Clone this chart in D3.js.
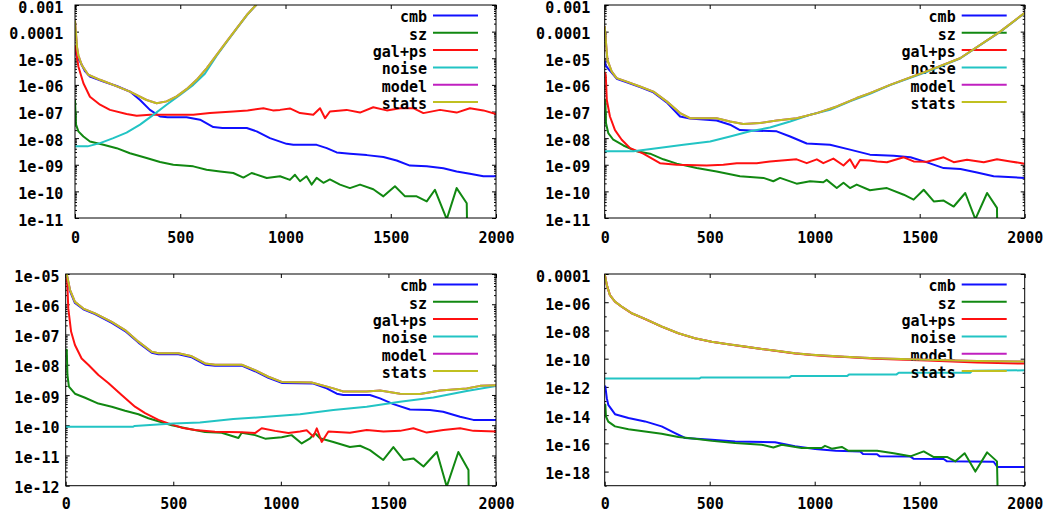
<!DOCTYPE html>
<html><head><meta charset="utf-8">
<script src="https://cdn.jsdelivr.net/npm/d3@7"></script>
<style>
body{margin:0;background:#fff;}
svg text{font-family:'DejaVu Sans Mono',monospace;font-weight:bold;font-size:15px;fill:#000;}
</style></head><body>
<svg id="c" width="1047" height="521"></svg>
<script>
// ---------- labels / ticks ----------
const seriesNames = ["cmb","sz","gal+ps","noise","model","stats"];
const seriesColors = ["#1010ff","#118811","#ff1010","#22c4c4","#c020c0","#c0c020"];
const xTickValues = [0,500,1000,1500,2000];
const xTickLabels = ["0","500","1000","1500","2000"];
const yTicksA = [1e-3,1e-4,1e-5,1e-6,1e-7,1e-8,1e-9,1e-10,1e-11];
const yLabelsA = ["0.001","0.0001","1e-05","1e-06","1e-07","1e-08","1e-09","1e-10","1e-11"];
const yTicksC = [1e-5,1e-6,1e-7,1e-8,1e-9,1e-10,1e-11,1e-12];
const yLabelsC = ["1e-05","1e-06","1e-07","1e-08","1e-09","1e-10","1e-11","1e-12"];
const yTicksD = [1e-4,1e-6,1e-8,1e-10,1e-12,1e-14,1e-16,1e-18];
const yLabelsD = ["0.0001","1e-06","1e-08","1e-10","1e-12","1e-14","1e-16","1e-18"];

// ---------- panel 1 (top left) ----------
const cmb1 = [[0,2e-5],[8,1.2e-5],[24,7.5e-6],[48,3.2e-6],[71,2.05e-6],[135,1.33e-6],[198,9.1e-7],[261,5.6e-7],[309,2.7e-7],[356,1.15e-7],[404,6.5e-8],[440,6.1e-8],[530,6.1e-8],[594,4.9e-8],[657,2.6e-8],[700,2.4e-8],[816,2.4e-8],[863,1.8e-8],[926,1e-8],[1005,6.1e-9],[1037,5.6e-9],[1148,5.6e-9],[1196,4.2e-9],[1243,2.9e-9],[1306,2.6e-9],[1386,2.3e-9],[1465,1.95e-9],[1528,1.45e-9],[1591,9.3e-10],[1671,8.7e-10],[1750,7.4e-10],[1813,5.6e-10],[1876,4.6e-10],[1940,3.7e-10],[2000,3.7e-10]];
const sz1 = [[0,2.7e-7],[5,3.2e-8],[16,1.8e-8],[40,1.15e-8],[71,7.5e-9],[135,5.6e-9],[198,4.2e-9],[261,2.7e-9],[340,1.8e-9],[404,1.26e-9],[467,1e-9],[562,8.7e-10],[625,6.5e-10],[689,5.6e-10],[752,4.9e-10],[800,3.3e-10],[839,4.9e-10],[911,3.2e-10],[974,3.7e-10],[1021,2.7e-10],[1045,4.2e-10],[1069,2.4e-10],[1100,3.7e-10],[1124,1.8e-10],[1148,3.2e-10],[1180,2.1e-10],[1211,2.8e-10],[1259,1.8e-10],[1306,1.33e-10],[1354,1.8e-10],[1417,1.2e-10],[1465,6.5e-11],[1520,1.55e-10],[1568,6.5e-11],[1623,6.5e-11],[1671,4.2e-11],[1710,1.15e-10],[1766,9e-12],[1813,1.33e-10],[1861,3.6e-11],[1866,1e-13]];
const galps1 = [[0,3e-5],[3,2.4e-5],[16,4.9e-6],[40,1.15e-6],[71,3.6e-7],[119,1.8e-7],[166,1.15e-7],[245,8.1e-8],[293,6.9e-8],[356,7.5e-8],[562,7.5e-8],[641,8.7e-8],[752,1e-7],[820,1.1e-7],[895,1.33e-7],[940,1.1e-7],[974,1.15e-7],[1021,1.3e-7],[1069,8.7e-8],[1132,7.5e-8],[1164,1.33e-7],[1188,5.6e-8],[1211,1e-7],[1290,1.15e-7],[1354,9.1e-8],[1417,1.45e-7],[1481,1.1e-7],[1544,1.33e-7],[1607,1.33e-7],[1655,8.7e-8],[1734,1.15e-7],[1813,9.1e-8],[1876,1.33e-7],[1940,1.1e-7],[2000,8.1e-8]];
const noise1 = [[0,4.9e-9],[60,4.9e-9],[119,6.5e-9],[182,1e-8],[245,1.6e-8],[309,3.2e-8],[372,7.5e-8],[435,1.8e-7],[499,4.2e-7],[562,1e-6],[617,2.6e-6],[673,1.25e-5],[720,4e-5],[768,1.3e-4],[816,4.1e-4],[860,1e-3],[900,2.6e-3]];
const stats1 = [[0,2.6e-4],[4,1e-4],[10,2.5e-5],[16,1.3e-5],[32,5.6e-6],[63,2.4e-6],[119,1.55e-6],[182,1e-6],[261,5.6e-7],[340,2.7e-7],[388,2.05e-7],[435,2.4e-7],[483,3.7e-7],[530,6.9e-7],[578,1.55e-6],[625,4.2e-6],[673,1.33e-5],[720,4.2e-5],[768,1.33e-4],[816,4.2e-4],[860,1e-3],[900,2.6e-3]];
const model1 = stats1;

// ---------- panel 2 (top right) ----------
const cmb2 = [[0,8e-6],[3,5.6e-6],[17,4e-6],[33,2.9e-6],[57,1.7e-6],[105,1.25e-6],[168,8.2e-7],[232,5.2e-7],[295,2.2e-7],[359,6.5e-8],[406,5.4e-8],[533,4.6e-8],[597,3.2e-8],[644,2e-8],[724,1.9e-8],[819,1.8e-8],[883,1.15e-8],[962,6.3e-9],[1073,5.6e-9],[1168,3.7e-9],[1263,2.4e-9],[1376,2.2e-9],[1456,1.9e-9],[1535,1.23e-9],[1614,7.5e-10],[1694,6.9e-10],[1773,5.1e-10],[1852,3.7e-10],[2000,3.2e-10]];
const sz2 = [[0,2.7e-7],[3,2.7e-7],[6,3.7e-8],[17,1.55e-8],[41,8.7e-9],[89,5.3e-9],[152,3.2e-9],[216,2.6e-9],[279,1.6e-9],[343,1.1e-9],[438,7.5e-10],[533,5.6e-10],[644,3.7e-10],[756,3.2e-10],[803,2.4e-10],[835,3.2e-10],[914,1.95e-10],[978,2.4e-10],[1041,2.2e-10],[1057,2.7e-10],[1105,1.33e-10],[1137,2.1e-10],[1168,1.33e-10],[1200,1.8e-10],[1263,1.1e-10],[1297,1.2e-10],[1344,1.33e-10],[1424,7.5e-11],[1471,4.9e-11],[1519,1.15e-10],[1567,4.2e-11],[1614,4.5e-11],[1662,2.7e-11],[1717,8.7e-11],[1765,9e-12],[1821,8.7e-11],[1868,2.4e-11],[1872,1e-13]];
const galps2 = [[0,3e-6],[5,2.4e-6],[10,2.7e-7],[25,6.5e-8],[49,2e-8],[81,8.7e-9],[121,4.2e-9],[184,2.6e-9],[263,1.15e-9],[343,1e-9],[486,9.4e-10],[565,1e-9],[629,1.15e-9],[724,1.15e-9],[787,1.33e-9],[914,1.6e-9],[962,1.15e-9],[1010,1.6e-9],[1041,1.15e-9],[1089,1.7e-9],[1137,9.4e-10],[1168,1.6e-9],[1192,7.5e-10],[1216,1.5e-9],[1263,1.45e-9],[1297,1.33e-9],[1344,1.25e-9],[1424,1.9e-9],[1471,1.33e-9],[1535,1.3e-9],[1614,1.9e-9],[1662,1.25e-9],[1725,1.55e-9],[1805,1.25e-9],[1868,1.6e-9],[1932,1.33e-9],[2000,1.1e-9]];
const noise2 = [[0,3.2e-9],[137,3.2e-9],[248,4.2e-9],[375,5.6e-9],[502,7.5e-9],[597,1.15e-8],[692,1.8e-8],[787,2.5e-8],[883,4.2e-8],[978,7.5e-8],[1073,1.15e-7],[1168,2.4e-7],[1263,4.6e-7],[1359,9.8e-7],[1535,3.1e-6],[1692,9.8e-6],[1883,9.8e-5],[2000,5e-4]];
const stats2 = [[0,1.6e-4],[5,5e-5],[13,8.7e-6],[33,3.2e-6],[57,1.8e-6],[105,1.33e-6],[168,8.7e-7],[232,5.6e-7],[295,2.4e-7],[359,8.7e-8],[406,5.6e-8],[533,5.6e-8],[597,4.2e-8],[660,3.4e-8],[740,3.7e-8],[819,4.6e-8],[914,5.6e-8],[1010,8.7e-8],[1105,1.55e-7],[1200,3.2e-7],[1263,4.9e-7],[1359,1e-6],[1535,3.3e-6],[1692,1e-5],[1883,1e-4],[2000,5.1e-4]];
const model2 = stats2;

// ---------- panel 3 (bottom left) ----------
const cmb3 = [[0,1e-5],[5,9e-6],[20,2.7e-6],[43,1.1e-6],[82,6.8e-7],[136,4.7e-7],[214,2.4e-7],[276,1.3e-7],[338,5.4e-8],[400,2.5e-8],[431,2.2e-8],[524,2.2e-8],[586,1.75e-8],[648,1e-8],[694,9.3e-9],[818,9.3e-9],[880,6.1e-9],[942,3.7e-9],[1004,2.5e-9],[1151,2.4e-9],[1213,1.65e-9],[1260,1.1e-9],[1290,1e-9],[1414,1e-9],[1461,7.7e-10],[1523,5e-10],[1600,3.3e-10],[1693,3.2e-10],[1754,2.8e-10],[1833,1.9e-10],[1895,1.5e-10],[2000,1.5e-10]];
const sz3 = [[0,3.1e-8],[5,3.1e-8],[8,4.6e-9],[15,1.9e-9],[43,1.1e-9],[90,8.1e-10],[152,5.2e-10],[214,4.1e-10],[276,3e-10],[338,2.3e-10],[384,1.7e-10],[446,1.25e-10],[493,1e-10],[570,7.7e-11],[648,6e-11],[725,5.6e-11],[803,3.8e-11],[818,5.6e-11],[880,4.7e-11],[927,3.6e-11],[1004,4e-11],[1050,4.7e-11],[1097,2.5e-11],[1136,3.7e-11],[1159,5.4e-11],[1182,3.7e-11],[1244,2.8e-11],[1321,1.9e-11],[1368,2.1e-11],[1414,1.5e-11],[1476,7.1e-12],[1523,1.9e-11],[1570,7.1e-12],[1616,8e-12],[1663,4.3e-12],[1725,1.3e-11],[1771,9.3e-13],[1825,1.3e-11],[1872,3.3e-12],[1876,1e-14]];
const galps3 = [[0,1e-5],[5,9.3e-6],[9,2.6e-6],[12,7.3e-7],[25,1.25e-7],[43,4.5e-8],[74,1.6e-8],[105,1e-8],[152,4.6e-9],[198,2.5e-9],[260,1e-9],[322,4.1e-10],[369,2.5e-10],[431,1.5e-10],[477,1.15e-10],[539,8.3e-11],[601,6.9e-11],[694,6.1e-11],[818,5.8e-11],[880,5.5e-11],[911,7.9e-11],[973,6.5e-11],[1035,5.5e-11],[1089,6.2e-11],[1120,6.8e-11],[1151,4.2e-11],[1167,7.9e-11],[1190,2.8e-11],[1221,6.2e-11],[1321,5.6e-11],[1399,6.9e-11],[1477,6.2e-11],[1554,6.5e-11],[1616,7.9e-11],[1678,5.7e-11],[1755,6.9e-11],[1833,7.9e-11],[1895,6.5e-11],[2000,6.2e-11]];
const noise3 = [[0,8.9e-11],[314,8.9e-11],[320,9.5e-11],[500,1.15e-10],[624,1.23e-10],[779,1.6e-10],[934,1.9e-10],[1089,2.3e-10],[1244,3.2e-10],[1399,4.1e-10],[1554,6e-10],[1709,8.3e-10],[1864,1.35e-9],[2000,2e-9]];
const stats3 = [[0,1.1e-5],[5,1e-5],[20,3e-6],[43,1.2e-6],[82,7.2e-7],[136,5e-7],[214,2.6e-7],[276,1.4e-7],[338,5.8e-8],[400,2.7e-8],[431,2.4e-8],[524,2.4e-8],[586,1.9e-8],[648,1.1e-8],[694,1e-8],[818,1e-8],[880,6.6e-9],[942,4e-9],[1004,2.7e-9],[1143,2.6e-9],[1244,1.65e-9],[1290,1.3e-9],[1399,1.3e-9],[1461,1.4e-9],[1554,1.1e-9],[1647,1.07e-9],[1740,1.4e-9],[1864,1.65e-9],[1926,2e-9],[2000,2.1e-9]];
const model3 = stats3;

// ---------- panel 4 (bottom right) ----------
const cmb4 = [[0,1.1e-12],[3,1.07e-12],[10,1.6e-13],[17,5.4e-14],[49,1.17e-14],[113,6.2e-15],[192,3.6e-15],[271,1.6e-15],[335,5.4e-16],[383,2.4e-16],[510,1.8e-16],[621,1.37e-16],[811,1.2e-16],[906,6.3e-17],[1002,4e-17],[1100,3e-17],[1217,2.6e-17],[1230,1.74e-17],[1297,1.7e-17],[1310,1.2e-17],[1456,1.15e-17],[1470,8.2e-18],[1614,7.8e-18],[1630,5.3e-18],[1852,5e-18],[1870,2.1e-18],[2000,2.1e-18]];
const sz4 = [[0,5.4e-14],[3,5.4e-14],[6,8e-15],[17,3.5e-15],[49,1.6e-15],[113,1e-15],[192,6.9e-16],[271,4.8e-16],[351,2.8e-16],[430,2.1e-16],[510,1.5e-16],[621,1.05e-16],[748,8e-17],[803,5.1e-17],[843,8e-17],[938,4.7e-17],[1033,4.7e-17],[1049,6.7e-17],[1081,4.2e-17],[1129,5.6e-17],[1160,3e-17],[1297,3e-17],[1376,2e-17],[1456,1.2e-17],[1519,2.7e-17],[1567,1.07e-17],[1630,1.1e-17],[1670,5.3e-18],[1714,2e-17],[1765,1e-18],[1821,2.3e-17],[1868,5.3e-18],[1872,1e-20]];
const galps4 = [[0,1e-4],[10,1.68e-5],[25,3.15e-6],[49,1.08e-6],[81,4.8e-7],[129,1.62e-7],[192,6.5e-8],[271,1.87e-8],[351,6.2e-9],[430,2.75e-9],[509,1.57e-9],[589,1.03e-9],[668,7.1e-10],[748,4.8e-10],[827,3.3e-10],[906,2.35e-10],[986,1.85e-10],[1065,1.5e-10],[1144,1.3e-10],[1287,1e-10],[1535,7.5e-11],[1773,5.3e-11],[2000,4.5e-11]];
const noise4 = [[0,3.9e-12],[450,3.9e-12],[460,4.7e-12],[880,4.7e-12],[890,6e-12],[1155,6e-12],[1165,7.7e-12],[1390,7.7e-12],[1400,1e-11],[1740,1e-11],[1750,1.4e-11],[2000,1.5e-11]];
const stats4 = [[0,1e-4],[10,1.7e-5],[25,3.2e-6],[49,1.1e-6],[81,4.9e-7],[129,1.65e-7],[192,6.6e-8],[271,1.9e-8],[351,6.3e-9],[430,2.8e-9],[509,1.6e-9],[589,1.05e-9],[668,7.2e-10],[748,4.9e-10],[827,3.5e-10],[906,2.4e-10],[986,1.9e-10],[1065,1.6e-10],[1144,1.35e-10],[1287,1.08e-10],[1535,8.3e-11],[1773,6.9e-11],[2000,6.3e-11]];
const model4 = stats4;

// ---------- layout ----------
const panels = [
  {x0:75, x1:496, y0:5, y1:218, dom:[1e-11,1e-3], ticks:yTicksA, labels:yLabelsA, minor:"sub", lpad:11.7, xpad:14.6,
   series:[cmb1,sz1,galps1,noise1,model1,stats1]},
  {x0:604.7, x1:1024.7, y0:5, y1:218, dom:[1e-11,1e-3], ticks:yTicksA, labels:yLabelsA, minor:"sub", lpad:14.4, xpad:14.6,
   series:[cmb2,sz2,galps2,noise2,model2,stats2]},
  {x0:65.7, x1:496, y0:274, y1:485.7, dom:[1e-12,1e-5], ticks:yTicksC, labels:yLabelsC, minor:"sub", lpad:6.2, xpad:12.6,
   series:[cmb3,sz3,galps3,noise3,model3,stats3]},
  {x0:604.7, x1:1024.7, y0:274, y1:485.7, dom:[1e-19,1e-4], ticks:yTicksD, labels:yLabelsD, minor:"dec", lpad:14.4, xpad:12.6,
   series:[cmb4,sz4,galps4,noise4,model4,stats4]}
];

const svg = d3.select("#c");
const MAJ = 4, MIN = 2;

panels.forEach((p, pi) => {
  const x = d3.scaleLinear().domain([0,2000]).range([p.x0, p.x1]);
  const y = d3.scaleLog().domain(p.dom).range([p.y1, p.y0]);
  const g = svg.append("g");

  const lo = Math.round(Math.log10(p.dom[0])), hi = Math.round(Math.log10(p.dom[1]));
  const minor = [];
  if (p.minor === "sub") {
    for (let k = lo; k < hi; k++) for (let m = 2; m <= 9; m++) minor.push(m * Math.pow(10, k));
  } else {
    for (let k = lo; k <= hi; k++) if (!p.ticks.some(t => Math.abs(Math.log10(t) - k) < 1e-6)) minor.push(Math.pow(10, k));
  }
  const styleAxis = sel => { sel.select(".domain").remove(); sel.selectAll(".tick line").attr("stroke","#000").attr("stroke-width",1); };

  g.append("g").attr("transform",`translate(${p.x0},0)`)
    .call(d3.axisLeft(y).tickValues(minor).tickSize(-MIN).tickFormat("")).call(styleAxis);
  g.append("g").attr("transform",`translate(${p.x1},0)`)
    .call(d3.axisRight(y).tickValues(minor).tickSize(-MIN).tickFormat("")).call(styleAxis);

  const yl = g.append("g").attr("transform",`translate(${p.x0},0)`)
    .call(d3.axisLeft(y).tickValues(p.ticks).tickSize(-MAJ).tickPadding(p.lpad).tickFormat((d,i)=>p.labels[i])).call(styleAxis);
  yl.selectAll(".tick text").attr("dy","0.47em").attr("fill","#000").style("font-family","'DejaVu Sans Mono',monospace").style("font-size","15px").style("font-weight","bold");
  g.append("g").attr("transform",`translate(${p.x1},0)`)
    .call(d3.axisRight(y).tickValues(p.ticks).tickSize(-MAJ).tickFormat("")).call(styleAxis);

  const xl = g.append("g").attr("transform",`translate(0,${p.y1})`)
    .call(d3.axisBottom(x).tickValues(xTickValues).tickSize(-MAJ).tickPadding(p.xpad).tickFormat((d,i)=>xTickLabels[i])).call(styleAxis);
  xl.selectAll(".tick text").attr("fill","#000").style("font-family","'DejaVu Sans Mono',monospace").style("font-size","15px").style("font-weight","bold");
  g.append("g").attr("transform",`translate(0,${p.y0})`)
    .call(d3.axisTop(x).tickValues(xTickValues).tickSize(-MAJ).tickFormat("")).call(styleAxis);

  const cid = "clip" + pi;
  svg.append("clipPath").attr("id", cid).append("rect")
    .attr("x", p.x0).attr("y", p.y0).attr("width", p.x1 - p.x0).attr("height", p.y1 - p.y0);

  const line = d3.line().x(d => x(d[0])).y(d => y(d[1]));
  const plot = g.append("g");
  p.series.forEach((s, si) => {
    const ly = p.y0 + 10.5 + si * 17.3;
    plot.append("text").attr("x", p.x1 - 69).attr("y", ly + 6.8).attr("text-anchor","end").text(seriesNames[si]);
    plot.append("line").attr("x1", p.x1 - 63).attr("x2", p.x1 - 18).attr("y1", ly).attr("y2", ly)
      .attr("stroke", seriesColors[si]).attr("stroke-width", 2);
    plot.append("path").datum(s).attr("d", line).attr("fill","none")
      .attr("stroke", seriesColors[si]).attr("stroke-width", 2).attr("stroke-linejoin","round")
      .attr("clip-path", `url(#${cid})`);
  });

  g.append("rect").attr("x", p.x0).attr("y", p.y0).attr("width", p.x1 - p.x0).attr("height", p.y1 - p.y0)
    .attr("fill","none").attr("stroke","#000").attr("stroke-width",1);
});
</script>
</body></html>
